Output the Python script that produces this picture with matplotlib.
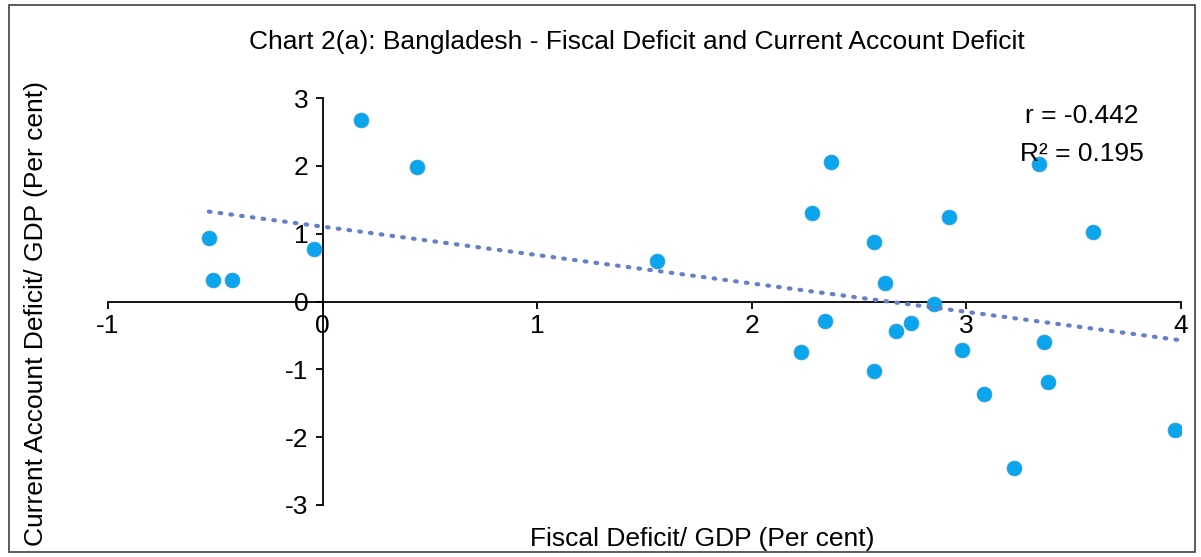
import matplotlib
matplotlib.use("Agg")
import matplotlib.pyplot as plt
import numpy as np
from matplotlib.patches import Rectangle

plt.rcParams['font.family'] = ['Liberation Sans', 'DejaVu Sans']

fiscal_deficit = [-0.53, -0.51, -0.42, -0.04, 0.18, 0.44, 1.56, 2.23, 2.28, 2.34, 2.37,
                  2.57, 2.57, 2.62, 2.67, 2.74, 2.85, 2.92, 2.98, 3.08, 3.34, 3.36,
                  3.38, 3.59, 3.22, 3.97]
current_account_deficit = [0.93, 0.32, 0.32, 0.77, 2.67, 1.98, 0.60, -0.75, 1.31, -0.29, 2.06,
                           0.88, -1.03, 0.27, -0.43, -0.31, -0.03, 1.24, -0.71, -1.36, 2.02, -0.60,
                           -1.19, 1.02, -2.46, -1.89]
x_ticks = [-1, 0, 1, 2, 3, 4]
y_ticks = [-3, -2, -1, 0, 1, 2, 3]
title = "Chart 2(a): Bangladesh - Fiscal Deficit and Current Account Deficit"
xlabel = "Fiscal Deficit/ GDP (Per cent)"
ylabel = "Current Account Deficit/ GDP (Per cent)"
stats_text = "r = -0.442\nR² = 0.195"

W, H = 1201, 557
FS = 19
fig = plt.figure(figsize=(W / 100, H / 100), dpi=100)
fig.patch.set_facecolor('white')
fig.patches.append(Rectangle((9 / W, 5 / H), (1195 - 9) / W, (552 - 5) / H,
                             transform=fig.transFigure, fill=False,
                             edgecolor='#404040', linewidth=1.2))

ax = fig.add_axes([108 / W, 1 - 505 / H, (1181 - 108) / W, (505 - 98) / H])
ax.set_xlim(-1, 4)
ax.set_ylim(-3, 3)

x = np.array(fiscal_deficit)
y = np.array(current_account_deficit)
ax.scatter(x, y, s=115, color='#0AA5EC', edgecolors='#2F9BE0', linewidths=0.5, zorder=3)

slope, intercept = np.polyfit(x, y, 1)
xs = np.array([x.min(), 4.0])
ax.plot(xs, slope * xs + intercept, linestyle=(0, (0.4, 2.2)), color='#6680C8',
        linewidth=3.0, dash_capstyle='round', zorder=4)

for s in ['top', 'right']:
    ax.spines[s].set_visible(False)
ax.spines['left'].set_position(('data', 0))
ax.spines['bottom'].set_position(('data', 0))
for s in ['left', 'bottom']:
    ax.spines[s].set_color('black')
    ax.spines[s].set_linewidth(1.3)

ax.set_xticks(x_ticks)
ax.set_yticks(y_ticks)
ax.set_xticklabels([str(t) for t in x_ticks])
ax.set_yticklabels([str(t) for t in y_ticks])
ax.tick_params(axis='both', direction='out', length=5, width=1.3, labelsize=FS, colors='black')
ax.tick_params(axis='x', pad=4)
ax.tick_params(axis='y', pad=5)
ax.patch.set_alpha(0)

fig.text(637 / W, 1 - 42 / H, title, ha='center', va='center', fontsize=FS)
fig.text(702 / W, 1 - 539 / H, xlabel, ha='center', va='center', fontsize=FS)
fig.text(36 / W, 1 - 313 / H, ylabel, ha='center', va='center', fontsize=FS, rotation=90)
fig.text(1082 / W, 1 - 135 / H, stats_text, ha='center', va='center', fontsize=FS,
         linespacing=1.75)

fig.savefig("out.png", dpi=100)
